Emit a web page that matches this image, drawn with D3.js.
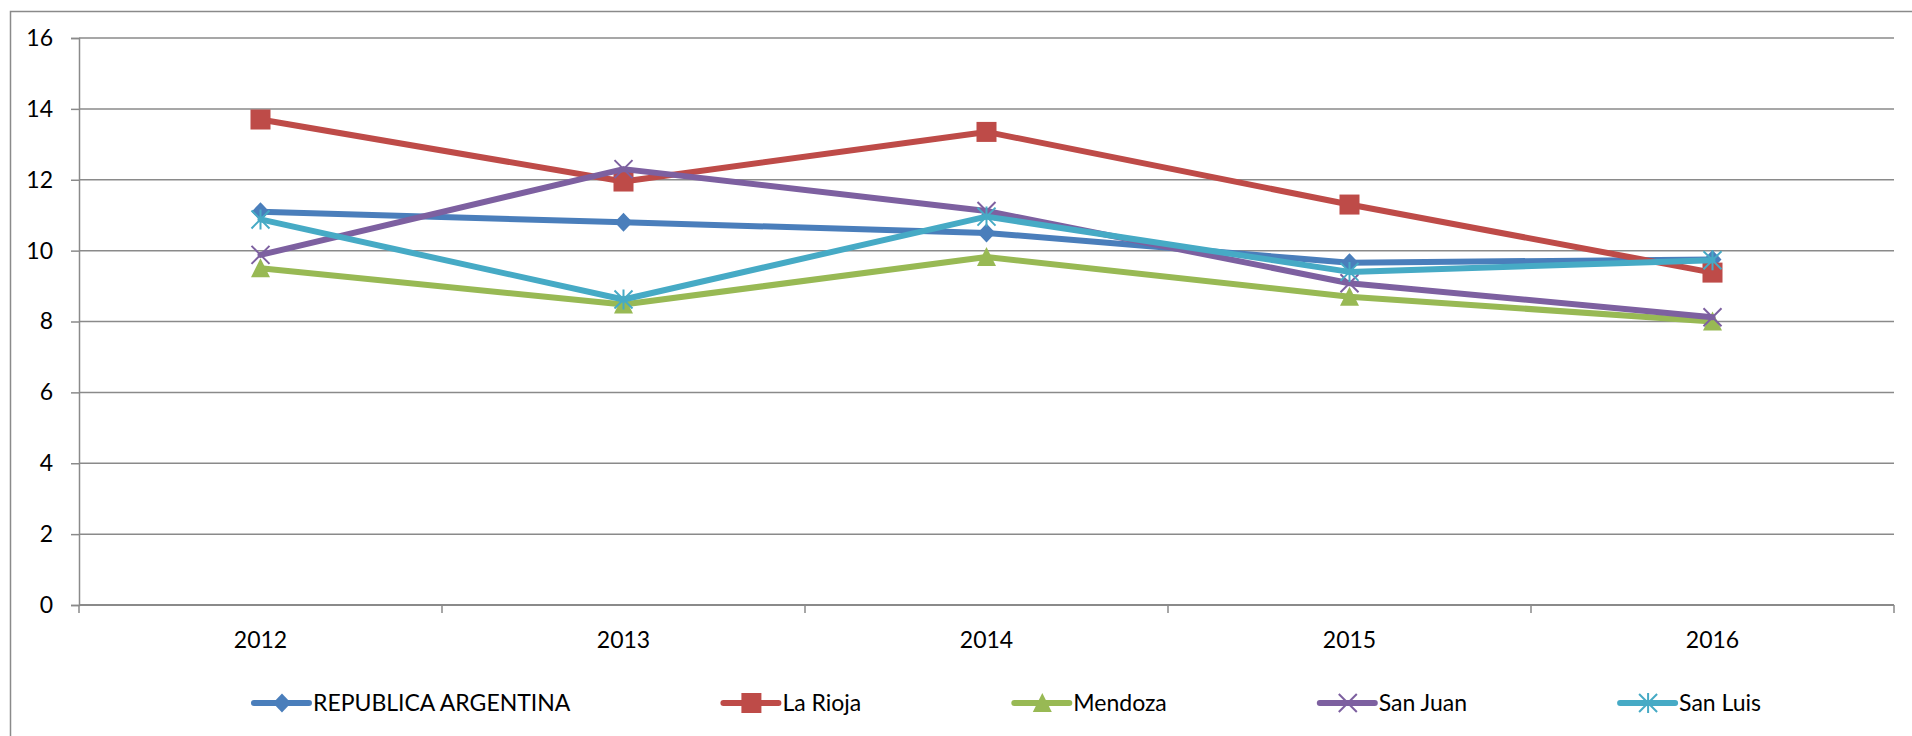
<!DOCTYPE html>
<html>
<head>
<meta charset="utf-8">
<script src="https://cdn.jsdelivr.net/npm/d3@7"></script>
<style>
  body { margin: 0; background: #fff; }
  text { font-family: Lato, "Open Sans", sans-serif; fill: #000; }
</style>
</head>
<body>
<svg id="chart"></svg>
<script>
// data
const years = ['2012', '2013', '2014', '2015', '2016'];
const yTicks = [0, 2, 4, 6, 8, 10, 12, 14, 16];

const argentina = [11.1, 10.8, 10.5, 9.66, 9.75];
const laRioja = [13.7, 11.95, 13.35, 11.3, 9.38];
const mendoza = [9.5, 8.48, 9.82, 8.7, 8.0];
const sanJuan = [9.88, 12.3, 11.12, 9.08, 8.12];
const sanLuis = [10.88, 8.62, 10.96, 9.4, 9.73];

const seriesNames = ['REPUBLICA ARGENTINA', 'La Rioja', 'Mendoza', 'San Juan', 'San Luis'];
const seriesColors = ['#4a7ebb', '#be4b48', '#98b954', '#7d60a0', '#46aac5'];
const seriesMarkers = ['diamond', 'square', 'triangle', 'cross', 'star'];

const series = [argentina, laRioja, mendoza, sanJuan, sanLuis].map((vals, i) => ({
    name: seriesNames[i],
    color: seriesColors[i],
    marker: seriesMarkers[i],
    values: vals.map((v, j) => ({ year: years[j], value: v }))
}));

const W = 1912, H = 736;
const margin = { top: 38, left: 79, right: 18, bottom: 131 };
const width = W - margin.left - margin.right;
const height = H - margin.top - margin.bottom;
const gridColor = '#8a8a8a';

const svg = d3.select('#chart').attr('width', W).attr('height', H);

// outer chart border (right and bottom run off the picture)
svg.append('rect')
    .attr('x', 10.5).attr('y', 11.5)
    .attr('width', W).attr('height', H)
    .attr('fill', 'none')
    .attr('stroke', gridColor)
    .attr('stroke-width', 1.5);

const chart = svg.append('g')
    .attr('transform', `translate(${margin.left},${margin.top})`);

const x = d3.scaleBand().domain(years).range([0, width]);
const y = d3.scaleLinear().domain([0, 16]).range([height, 0]);

// y axis with gridlines
const yAxis = d3.axisLeft(y)
    .tickValues(yTicks)
    .tickSize(8)
    .tickPadding(18);

const yAxisG = chart.append('g').call(yAxis);
yAxisG.select('.domain').attr('stroke', gridColor).attr('stroke-width', 1.5);
yAxisG.selectAll('.tick line').attr('stroke', gridColor).attr('stroke-width', 1.5);
yAxisG.selectAll('.tick text').attr('font-size', 23).attr('font-family', 'Lato');

chart.append('g')
    .selectAll('line')
    .data(yTicks.filter(d => d > 0))
    .join('line')
        .attr('x1', 0).attr('x2', width)
        .attr('y1', d => y(d)).attr('y2', d => y(d))
        .attr('stroke', gridColor)
        .attr('stroke-width', 1.5);

// x axis: ticks sit between the categories
const xAxisG = chart.append('g').attr('transform', `translate(0,${height})`);
xAxisG.append('line')
    .attr('x1', 0).attr('x2', width)
    .attr('stroke', gridColor).attr('stroke-width', 2);
xAxisG.selectAll('line.tk')
    .data(years.concat(['end']))
    .join('line')
        .attr('class', 'tk')
        .attr('x1', (d, i) => i * x.step()).attr('x2', (d, i) => i * x.step())
        .attr('y1', 0).attr('y2', 8)
        .attr('stroke', gridColor).attr('stroke-width', 1.5);
xAxisG.selectAll('text')
    .data(years)
    .join('text')
        .attr('x', d => x(d) + x.bandwidth() / 2)
        .attr('y', 43)
        .attr('text-anchor', 'middle')
        .attr('font-size', 23)
        .text(d => d);

// marker shapes
function drawMarker(g, type, color) {
    if (type === 'diamond') {
        g.append('path').attr('d', 'M0,-9.5L9,0L0,9.5L-9,0Z').attr('fill', color);
    } else if (type === 'square') {
        g.append('rect').attr('x', -10).attr('y', -10).attr('width', 20).attr('height', 20).attr('fill', color);
    } else if (type === 'triangle') {
        g.append('path').attr('d', 'M0,-10L9.5,9L-9.5,9Z').attr('fill', color);
    } else if (type === 'cross') {
        g.append('path').attr('d', 'M-9,-9L9,9M-9,9L9,-9').attr('stroke', color).attr('stroke-width', 2);
    } else if (type === 'star') {
        g.append('path').attr('d', 'M-9,-9L9,9M-9,9L9,-9M0,-10L0,10').attr('stroke', color).attr('stroke-width', 2);
    }
}

const line = d3.line()
    .x(d => x(d.year) + x.bandwidth() / 2)
    .y(d => y(d.value));

series.forEach(s => {
    const g = chart.append('g');
    g.append('path')
        .datum(s.values)
        .attr('d', line)
        .attr('fill', 'none')
        .attr('stroke', s.color)
        .attr('stroke-width', 6)
        .attr('stroke-linejoin', 'round')
        .attr('stroke-linecap', 'round');
    g.selectAll('g.pt')
        .data(s.values)
        .join('g')
            .attr('class', 'pt')
            .attr('transform', d => `translate(${x(d.year) + x.bandwidth() / 2},${y(d.value)})`)
            .each(function () { drawMarker(d3.select(this), s.marker, s.color); });
});

// legend, items laid out by their text width
const legend = svg.append('g').attr('transform', 'translate(0,703)');
const items = legend.selectAll('g')
    .data(series)
    .join('g');
items.append('line')
    .attr('x1', 0).attr('x2', 55)
    .attr('stroke', d => d.color)
    .attr('stroke-width', 6)
    .attr('stroke-linecap', 'round');
items.each(function (d) {
    const m = d3.select(this).append('g').attr('transform', 'translate(28,0)');
    drawMarker(m, d.marker, d.color);
});
items.append('text')
    .attr('x', 59)
    .attr('dy', '0.35em')
    .attr('font-size', 23)
    .text(d => d.name);

const gap = 153;
let widths = [];
items.each(function () { widths.push(59 + d3.select(this).select('text').node().getComputedTextLength()); });
const total = d3.sum(widths) + gap * (widths.length - 1);
let cx = 1007.5 - total / 2;
items.attr('transform', (d, i) => {
    const t = `translate(${cx},0)`;
    cx += widths[i] + gap;
    return t;
});
</script>
</body>
</html>
